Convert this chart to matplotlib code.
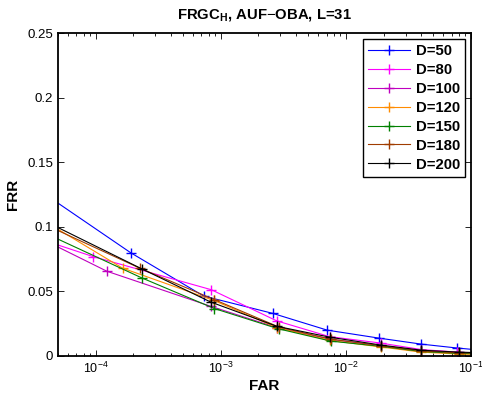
import matplotlib
matplotlib.use('Agg')
import matplotlib.pyplot as plt
from matplotlib.ticker import LogLocator, NullFormatter, FixedLocator

plt.rcParams.update({
    'font.family': ['Liberation Sans', 'DejaVu Sans'],
    'mathtext.fontset': 'custom',
    'mathtext.rm': 'Liberation Sans',
    'mathtext.bf': 'Liberation Sans:bold',
    'xtick.direction': 'in',
    'ytick.direction': 'in',
    'xtick.top': True,
    'ytick.right': True,
})

# ---- data ----
labels = ['D=50', 'D=80', 'D=100', 'D=120', 'D=150', 'D=180', 'D=200']
colors = ['#0000FF', '#FF00FF', '#BF00BF', '#FF8C00', '#008000', '#A03C00', '#000000']

far_d50 = [3e-5, 1.9e-4, 7.3e-4, 2.6e-3, 7.1e-3, 1.85e-2, 4.0e-2, 7.7e-2, 0.12]
frr_d50 = [0.133, 0.080, 0.0464, 0.033, 0.020, 0.0138, 0.0092, 0.0062, 0.0045]

far_d80 = [3e-5, 9.5e-5, 8.4e-4, 2.8e-3, 7.4e-3, 1.9e-2, 4.0e-2, 7.8e-2, 0.12]
frr_d80 = [0.093, 0.077, 0.0513, 0.0272, 0.0150, 0.0100, 0.0050, 0.0030, 0.0022]

far_d100 = [3e-5, 1.23e-4, 8.3e-4, 2.8e-3, 7.5e-3, 1.9e-2, 4.0e-2, 8.0e-2, 0.12]
frr_d100 = [0.095, 0.0656, 0.0385, 0.0220, 0.0130, 0.0080, 0.0040, 0.0022, 0.0018]

far_d120 = [3e-5, 1.64e-4, 8.8e-4, 2.8e-3, 7.5e-3, 1.9e-2, 4.0e-2, 8.0e-2, 0.12]
frr_d120 = [0.111, 0.068, 0.0430, 0.0220, 0.0120, 0.0070, 0.0030, 0.0015, 0.0012]

far_d150 = [3e-5, 2.33e-4, 8.9e-4, 2.9e-3, 7.6e-3, 1.9e-2, 4.0e-2, 8.0e-2, 0.12]
frr_d150 = [0.1004, 0.0605, 0.0367, 0.0210, 0.0115, 0.0075, 0.0035, 0.0020, 0.0017]

far_d180 = [3e-5, 2.25e-4, 8.9e-4, 2.9e-3, 7.6e-3, 1.9e-2, 4.0e-2, 8.0e-2, 0.12]
frr_d180 = [0.107, 0.0680, 0.0436, 0.0225, 0.0130, 0.0080, 0.0040, 0.0025, 0.0022]

far_d200 = [3e-5, 2.33e-4, 8.3e-4, 2.8e-3, 7.5e-3, 1.9e-2, 4.0e-2, 8.0e-2, 0.12]
frr_d200 = [0.110, 0.0675, 0.0418, 0.0230, 0.0145, 0.0085, 0.0045, 0.0030, 0.0025]

series_far = [far_d50, far_d80, far_d100, far_d120, far_d150, far_d180, far_d200]
series_frr = [frr_d50, frr_d80, frr_d100, frr_d120, frr_d150, frr_d180, frr_d200]

y_ticks = [0, 0.05, 0.1, 0.15, 0.2, 0.25]
y_ticklabels = ['0', '0.05', '0.1', '0.15', '0.2', '0.25']

# ---- figure ----
fig = plt.figure(figsize=(4.82, 4.0), dpi=100)
ax = fig.add_axes([58 / 482, 44 / 400, 413 / 482, 323 / 400])

for far, frr, c, lab in zip(series_far, series_frr, colors, labels):
    ax.semilogx(far, frr, '-+', color=c, lw=0.8, ms=7, mew=1.0, label=lab)

ax.set_xlim(5e-5, 1e-1)
ax.set_ylim(0, 0.25)
ax.yaxis.set_major_locator(FixedLocator(y_ticks))
ax.set_yticklabels(y_ticklabels)
ax.xaxis.set_major_locator(LogLocator(base=10, numticks=10))
ax.xaxis.set_minor_locator(LogLocator(base=10, subs=range(2, 10), numticks=10))
ax.xaxis.set_minor_formatter(NullFormatter())

ax.tick_params(which='both', labelsize=9, width=0.6)
ax.tick_params(axis='y', labelsize=9.5)
ax.tick_params(which='major', length=4)
ax.tick_params(which='minor', length=2)
for s in ax.spines.values():
    s.set_linewidth(1.3)

ax.set_title(r'FRGC$_\mathbf{H}$, AUF$-$OBA, L=31', fontsize=10.7, fontweight='bold', pad=10)
ax.set_xlabel('FAR', fontsize=11, fontweight='bold', labelpad=2)
ax.set_ylabel('FRR', fontsize=11, fontweight='bold', labelpad=5)

leg = ax.legend(loc='upper right', numpoints=1, handlelength=2.8,
                prop={'weight': 'bold', 'size': 10.7}, fancybox=False,
                borderaxespad=0.4, labelspacing=0.33, handletextpad=0.4,
                borderpad=0.35)
leg.get_frame().set_edgecolor('black')
leg.get_frame().set_linewidth(1.0)
leg.get_frame().set_alpha(1)

fig.savefig('out.png', dpi=100)
